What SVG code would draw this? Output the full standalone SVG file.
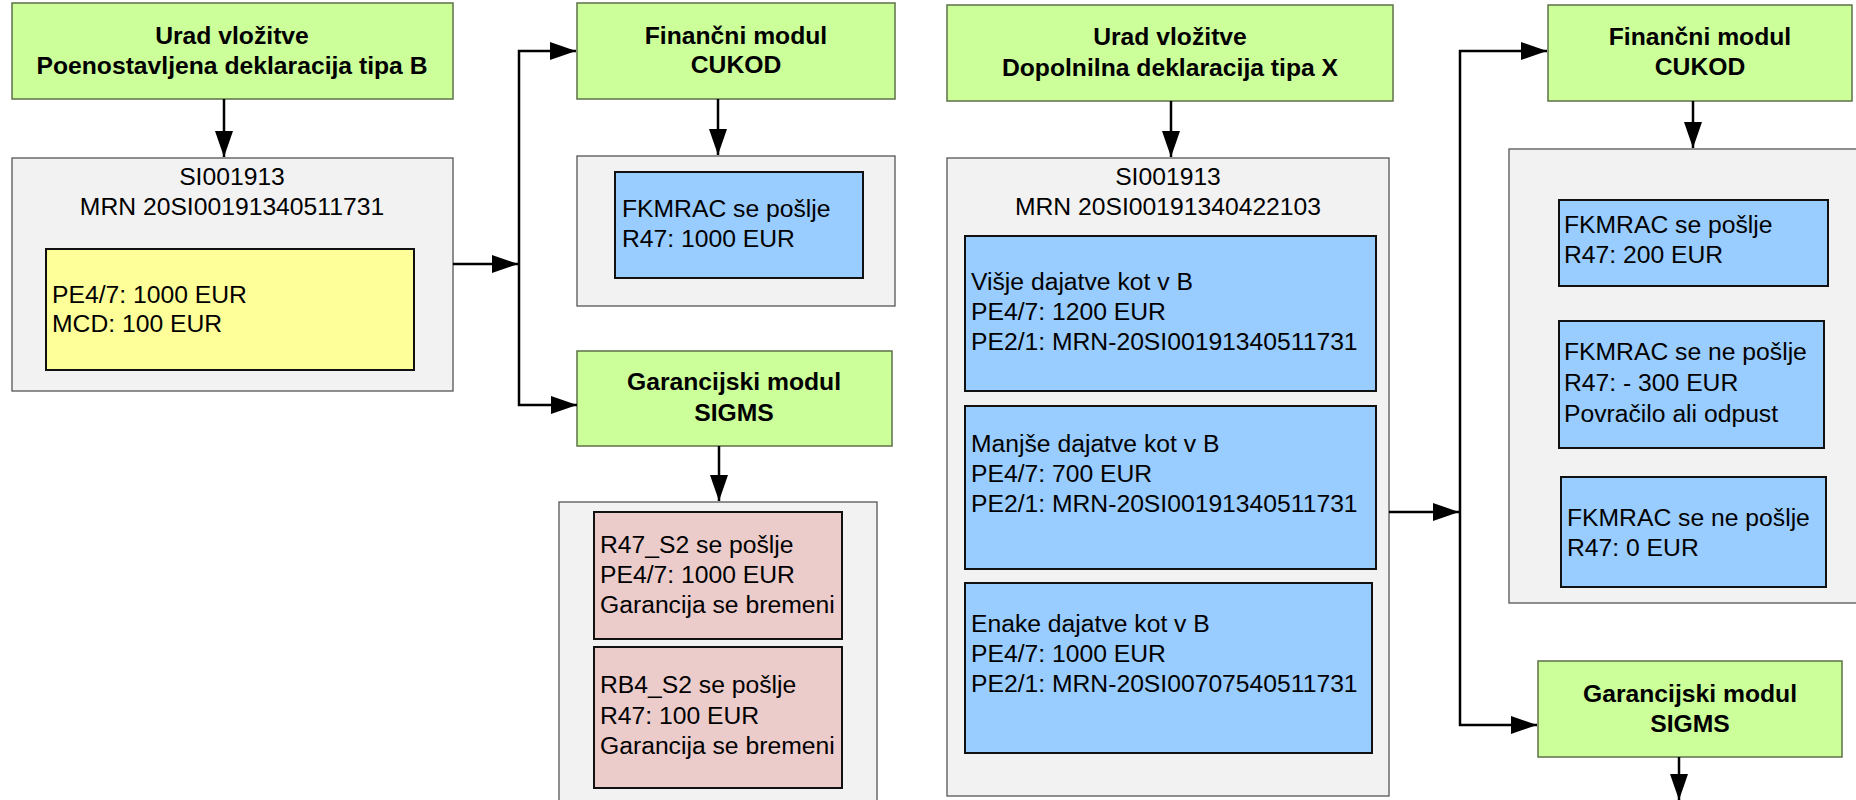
<svg xmlns="http://www.w3.org/2000/svg" width="1856" height="800" viewBox="0 0 1856 800">
<style>
text{font-family:"Liberation Sans",Arial,sans-serif;font-size:24.7px;fill:#000}
.b{font-weight:bold}
.c{text-anchor:middle}
.green{fill:#CCFF99;stroke:#5E7048;stroke-width:1.5}
.grey{fill:#F2F2F2;stroke:#555;stroke-width:1.3}
.blue{fill:#99CCFF;stroke:#111;stroke-width:2}
.yel{fill:#FFFF99;stroke:#111;stroke-width:2}
.pink{fill:#EBCCCB;stroke:#111;stroke-width:2}
.conn{fill:none;stroke:#000;stroke-width:2.5}
</style>
<defs>
<marker id="ah" markerUnits="userSpaceOnUse" markerWidth="26" markerHeight="18" refX="26" refY="9" orient="auto">
<path d="M0,0 L26,9 L0,18 Z" fill="#000"/>
</marker>
</defs>
<rect width="1856" height="800" fill="#fff"/>

<g id="urad-b">
<rect class="green" x="12" y="3" width="441" height="96"/>
<text class="b c" x="232" y="44">Urad vložitve</text>
<text class="b c" x="232" y="74">Poenostavljena deklaracija tipa B</text>
</g>
<g id="decl-b">
<rect class="grey" x="12" y="158" width="441" height="233"/>
<text class="c" x="232" y="185">SI001913</text>
<text class="c" x="232" y="215">MRN 20SI00191340511731</text>
<rect class="yel" x="46" y="249" width="368" height="121"/>
<text x="52" y="303">PE4/7: 1000 EUR</text>
<text x="52" y="332">MCD: 100 EUR</text>
</g>

<g id="fin-1">
<rect class="green" x="577" y="3" width="318" height="96"/>
<text class="b c" x="736" y="44">Finančni modul</text>
<text class="b c" x="736" y="73">CUKOD</text>
</g>
<g id="fin-1-box">
<rect class="grey" x="577" y="156" width="318" height="150"/>
<rect class="blue" x="615" y="172" width="248" height="106"/>
<text x="622" y="217">FKMRAC se pošlje</text>
<text x="622" y="247">R47: 1000 EUR</text>
</g>

<g id="gar-1">
<rect class="green" x="577" y="351" width="315" height="95"/>
<text class="b c" x="734" y="390">Garancijski modul</text>
<text class="b c" x="734" y="421">SIGMS</text>
</g>
<g id="gar-1-box">
<rect class="grey" x="559" y="502" width="318" height="320"/>
<rect class="pink" x="594" y="512" width="248" height="127"/>
<text x="600" y="553">R47_S2 se pošlje</text>
<text x="600" y="583">PE4/7: 1000 EUR</text>
<text x="600" y="613">Garancija se bremeni</text>
<rect class="pink" x="594" y="647" width="248" height="141"/>
<text x="600" y="693">RB4_S2 se pošlje</text>
<text x="600" y="724">R47: 100 EUR</text>
<text x="600" y="754">Garancija se bremeni</text>
</g>

<g id="urad-x">
<rect class="green" x="947" y="5" width="446" height="96"/>
<text class="b c" x="1170" y="45">Urad vložitve</text>
<text class="b c" x="1170" y="76">Dopolnilna deklaracija tipa X</text>
</g>
<g id="decl-x">
<rect class="grey" x="947" y="158" width="442" height="638"/>
<text class="c" x="1168" y="185">SI001913</text>
<text class="c" x="1168" y="215">MRN 20SI00191340422103</text>
<rect class="blue" x="965" y="236" width="411" height="155"/>
<text x="971" y="290">Višje dajatve kot v B</text>
<text x="971" y="320">PE4/7: 1200 EUR</text>
<text x="971" y="350">PE2/1: MRN-20SI00191340511731</text>
<rect class="blue" x="965" y="406" width="411" height="163"/>
<text x="971" y="452">Manjše dajatve kot v B</text>
<text x="971" y="482">PE4/7: 700 EUR</text>
<text x="971" y="512">PE2/1: MRN-20SI00191340511731</text>
<rect class="blue" x="965" y="583" width="407" height="170"/>
<text x="971" y="632">Enake dajatve kot v B</text>
<text x="971" y="662">PE4/7: 1000 EUR</text>
<text x="971" y="692">PE2/1: MRN-20SI00707540511731</text>
</g>

<g id="fin-2">
<rect class="green" x="1548" y="5" width="304" height="96"/>
<text class="b c" x="1700" y="45">Finančni modul</text>
<text class="b c" x="1700" y="75">CUKOD</text>
</g>
<g id="fin-2-box">
<rect class="grey" x="1509" y="149" width="360" height="454"/>
<rect class="blue" x="1559" y="200" width="269" height="86"/>
<text x="1564" y="233">FKMRAC se pošlje</text>
<text x="1564" y="263">R47: 200 EUR</text>
<rect class="blue" x="1559" y="321" width="265" height="127"/>
<text x="1564" y="360">FKMRAC se ne pošlje</text>
<text x="1564" y="391">R47: - 300 EUR</text>
<text x="1564" y="422">Povračilo ali odpust</text>
<rect class="blue" x="1561" y="477" width="265" height="110"/>
<text x="1567" y="526">FKMRAC se ne pošlje</text>
<text x="1567" y="556">R47: 0 EUR</text>
</g>

<g id="gar-2">
<rect class="green" x="1538" y="661" width="304" height="96"/>
<text class="b c" x="1690" y="702">Garancijski modul</text>
<text class="b c" x="1690" y="732">SIGMS</text>
</g>

<g id="connectors">
<path class="conn" d="M224,99 V157" marker-end="url(#ah)"/>
<path class="conn" d="M453,264 H518" marker-end="url(#ah)"/>
<path class="conn" d="M519,264 V51 H576" marker-end="url(#ah)"/>
<path class="conn" d="M519,264 V405 H577" marker-end="url(#ah)"/>
<path class="conn" d="M718,99 V155" marker-end="url(#ah)"/>
<path class="conn" d="M719,446 V501" marker-end="url(#ah)"/>
<path class="conn" d="M1171,101 V157" marker-end="url(#ah)"/>
<path class="conn" d="M1389,512 H1459" marker-end="url(#ah)"/>
<path class="conn" d="M1460,512 V51 H1547" marker-end="url(#ah)"/>
<path class="conn" d="M1460,512 V725 H1537" marker-end="url(#ah)"/>
<path class="conn" d="M1693,101 V148" marker-end="url(#ah)"/>
<path class="conn" d="M1679,757 V800" marker-end="url(#ah)"/>
</g>
</svg>
